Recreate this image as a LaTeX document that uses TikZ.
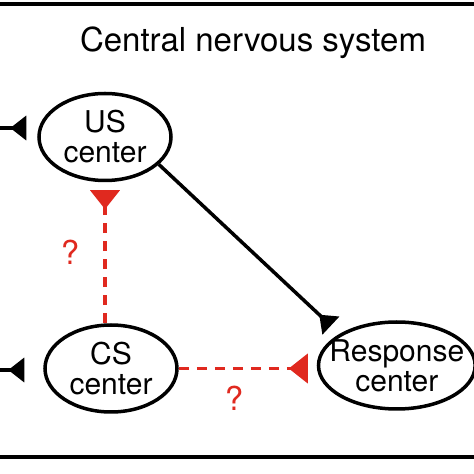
\documentclass[tikz,border=0pt]{standalone}
\usepackage{fontspec}
\setmainfont{TeX Gyre Heros}
\usetikzlibrary{positioning,shapes.geometric,arrows.meta}
\definecolor{askclr}{rgb}{0.88, 0.16, 0.12}
\tikzset{ %
  ,x=1pt, y=1pt
  ,every node/.style={font=\fontsize{30}{30}\selectfont}
  ,hub/.style={draw, ellipse, line width=3.5pt, inner xsep=-12pt, inner ysep=0pt, minimum width=132pt, minimum height=87pt, align=center}
  ,tie/.style={line width=3.5pt, -{Triangle[reversed, length=16pt, width=24pt]}}
  ,ask/.style={askclr, line width=3.8pt, dash pattern=on 10pt off 8pt, -{Triangle[reversed, length=19pt, width=29pt]}}
  ,qmark/.style={text=askclr, inner sep=0, font=\fontsize{33}{35}\selectfont}
}
\begin{document}
\begin{tikzpicture}
  \useasboundingbox (0,0) rectangle (474,474);
  \draw[line width=3.5pt] (0,470) -- (474,470) (0,17) -- (474,17);
  \node[font=\fontsize{33}{35}\selectfont, anchor=base] (cns) at (253,422) {Central nervous system};
  \draw
  node[hub] (US) at (105,337) {US\\center}
  node[hub, below=141pt of US, xshift=6pt] (CS) {CS\\center}
  node[hub, right=138pt of CS, yshift=3pt, minimum width=153pt] (RC) {Response\\center};
  \coordinate (usin) at (0,346);
  \coordinate (csin) at (0,104);
  \draw[tie, shorten >=11pt] (usin) -- (usin -| US.west);
  \draw[tie, shorten >=19pt] (csin) -- (csin -| CS.west);
  \draw[tie, shorten >=12pt] (US.-27) -- (RC.151);
  \draw[ask, shorten >=8pt] (US.south |- CS.north) -- node[qmark, left=24pt] {?} (US.south);
  \draw[ask, shorten >=9pt] (CS.east) -- node[qmark, pos=0.4, below=16pt] {?} (CS.east -| RC.west);
\end{tikzpicture}
\end{document}
